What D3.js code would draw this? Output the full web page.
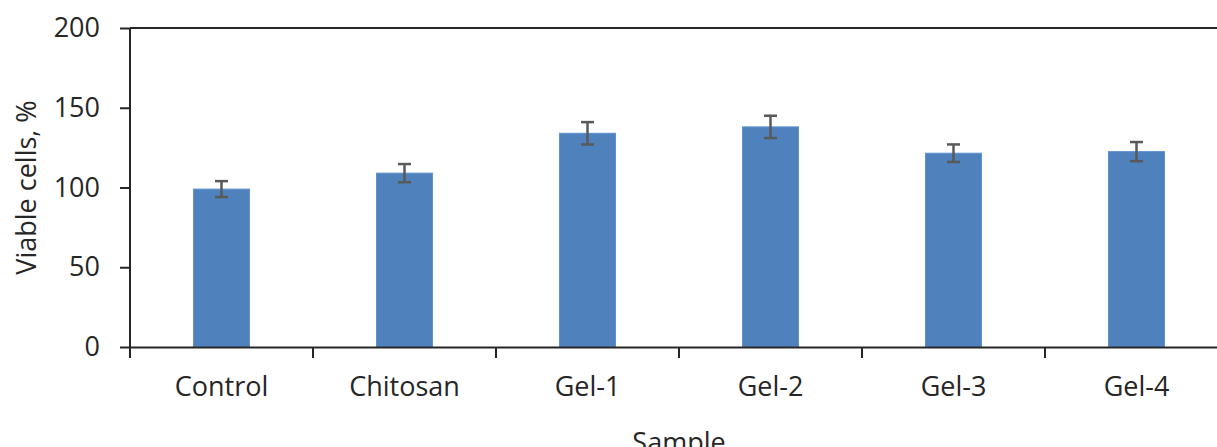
<!DOCTYPE html>
<html>
<head>
<meta charset="utf-8">
<script src="https://cdn.jsdelivr.net/npm/d3@7"></script>
<style>
  html, body { margin: 0; padding: 0; background: #fff; }
  svg { display: block; }
  text { font-family: "Open Sans", "DejaVu Sans", sans-serif; fill: #262626; }
</style>
</head>
<body>
<svg id="chart" width="1217" height="447"></svg>
<script>
// Cell viability per sample (mean and error)
const categories = ["Control", "Chitosan", "Gel-1", "Gel-2", "Gel-3", "Gel-4"];
const viability = [99, 109, 134, 138, 121.5, 122.5];
const errors = [5, 5.7, 7, 7, 5.5, 6];
const yTicks = [0, 50, 100, 150, 200];

const svg = d3.select("#chart");
const plotLeft = 130, plotRight = 1228, plotTop = 28, plotBottom = 347;
const fontSize = 27;

const x = d3.scaleBand().domain(categories).range([plotLeft, plotRight]).padding(0);
const y = d3.scaleLinear().domain([0, 200]).range([plotBottom, plotTop]);

const barW = x.bandwidth() * 0.306;
const axisColor = "#262626";

// top frame line
svg.append("line")
  .attr("x1", plotLeft).attr("x2", plotRight)
  .attr("y1", y(200)).attr("y2", y(200))
  .attr("stroke", axisColor).attr("stroke-width", 2);

// bars
svg.append("g").selectAll("rect")
  .data(categories)
  .join("rect")
  .attr("x", d => x(d) + (x.bandwidth() - barW) / 2)
  .attr("width", barW)
  .attr("y", (d, i) => y(viability[i]))
  .attr("height", (d, i) => y(0) - y(viability[i]))
  .attr("fill", "#4F81BD")
  .attr("stroke", "#5f92d2")
  .attr("stroke-width", 1);

// error bars
const eb = svg.append("g").attr("stroke", "#595959").attr("stroke-width", 2.5);
categories.forEach((c, i) => {
  const cx = x(c) + x.bandwidth() / 2;
  const hi = y(viability[i] + errors[i]);
  const lo = y(viability[i] - errors[i]);
  eb.append("line").attr("x1", cx).attr("x2", cx).attr("y1", hi).attr("y2", lo);
  eb.append("line").attr("x1", cx - 6.5).attr("x2", cx + 6.5).attr("y1", hi).attr("y2", hi);
  eb.append("line").attr("x1", cx - 6.5).attr("x2", cx + 6.5).attr("y1", lo).attr("y2", lo);
});

// y axis
const yAxis = svg.append("g")
  .attr("transform", `translate(${plotLeft},0)`)
  .call(d3.axisLeft(y).tickValues(yTicks).tickSize(10).tickPadding(20));
yAxis.select(".domain").remove();
yAxis.selectAll(".tick line").attr("stroke", axisColor).attr("stroke-width", 2);
yAxis.selectAll(".tick text")
  .attr("font-size", fontSize)
  .attr("fill", "#262626")
  .style("font-family", "'Open Sans', sans-serif");
svg.append("line")
  .attr("x1", plotLeft).attr("x2", plotLeft)
  .attr("y1", plotTop).attr("y2", plotBottom + 11)
  .attr("stroke", axisColor).attr("stroke-width", 2);

// x axis
const xAxis = svg.append("g")
  .attr("transform", `translate(0,${plotBottom})`)
  .call(d3.axisBottom(x).tickSize(0).tickPadding(30));
xAxis.select(".domain").attr("stroke", axisColor).attr("stroke-width", 2);
xAxis.selectAll(".tick text")
  .attr("font-size", fontSize)
  .attr("fill", "#262626")
  .style("font-family", "'Open Sans', sans-serif");
// category boundary ticks
svg.append("g").selectAll("line")
  .data(categories.slice(1))
  .join("line")
  .attr("x1", d => x(d)).attr("x2", d => x(d))
  .attr("y1", plotBottom).attr("y2", plotBottom + 11)
  .attr("stroke", axisColor).attr("stroke-width", 2);

// axis titles
svg.append("text")
  .attr("transform", `translate(36,${(plotTop + plotBottom) / 2}) rotate(-90)`)
  .attr("text-anchor", "middle")
  .attr("font-size", fontSize)
  .text("Viable cells, %");

svg.append("text")
  .attr("x", (plotLeft + plotRight) / 2)
  .attr("y", 452)
  .attr("text-anchor", "middle")
  .attr("font-size", fontSize)
  .text("Sample");
</script>
</body>
</html>
